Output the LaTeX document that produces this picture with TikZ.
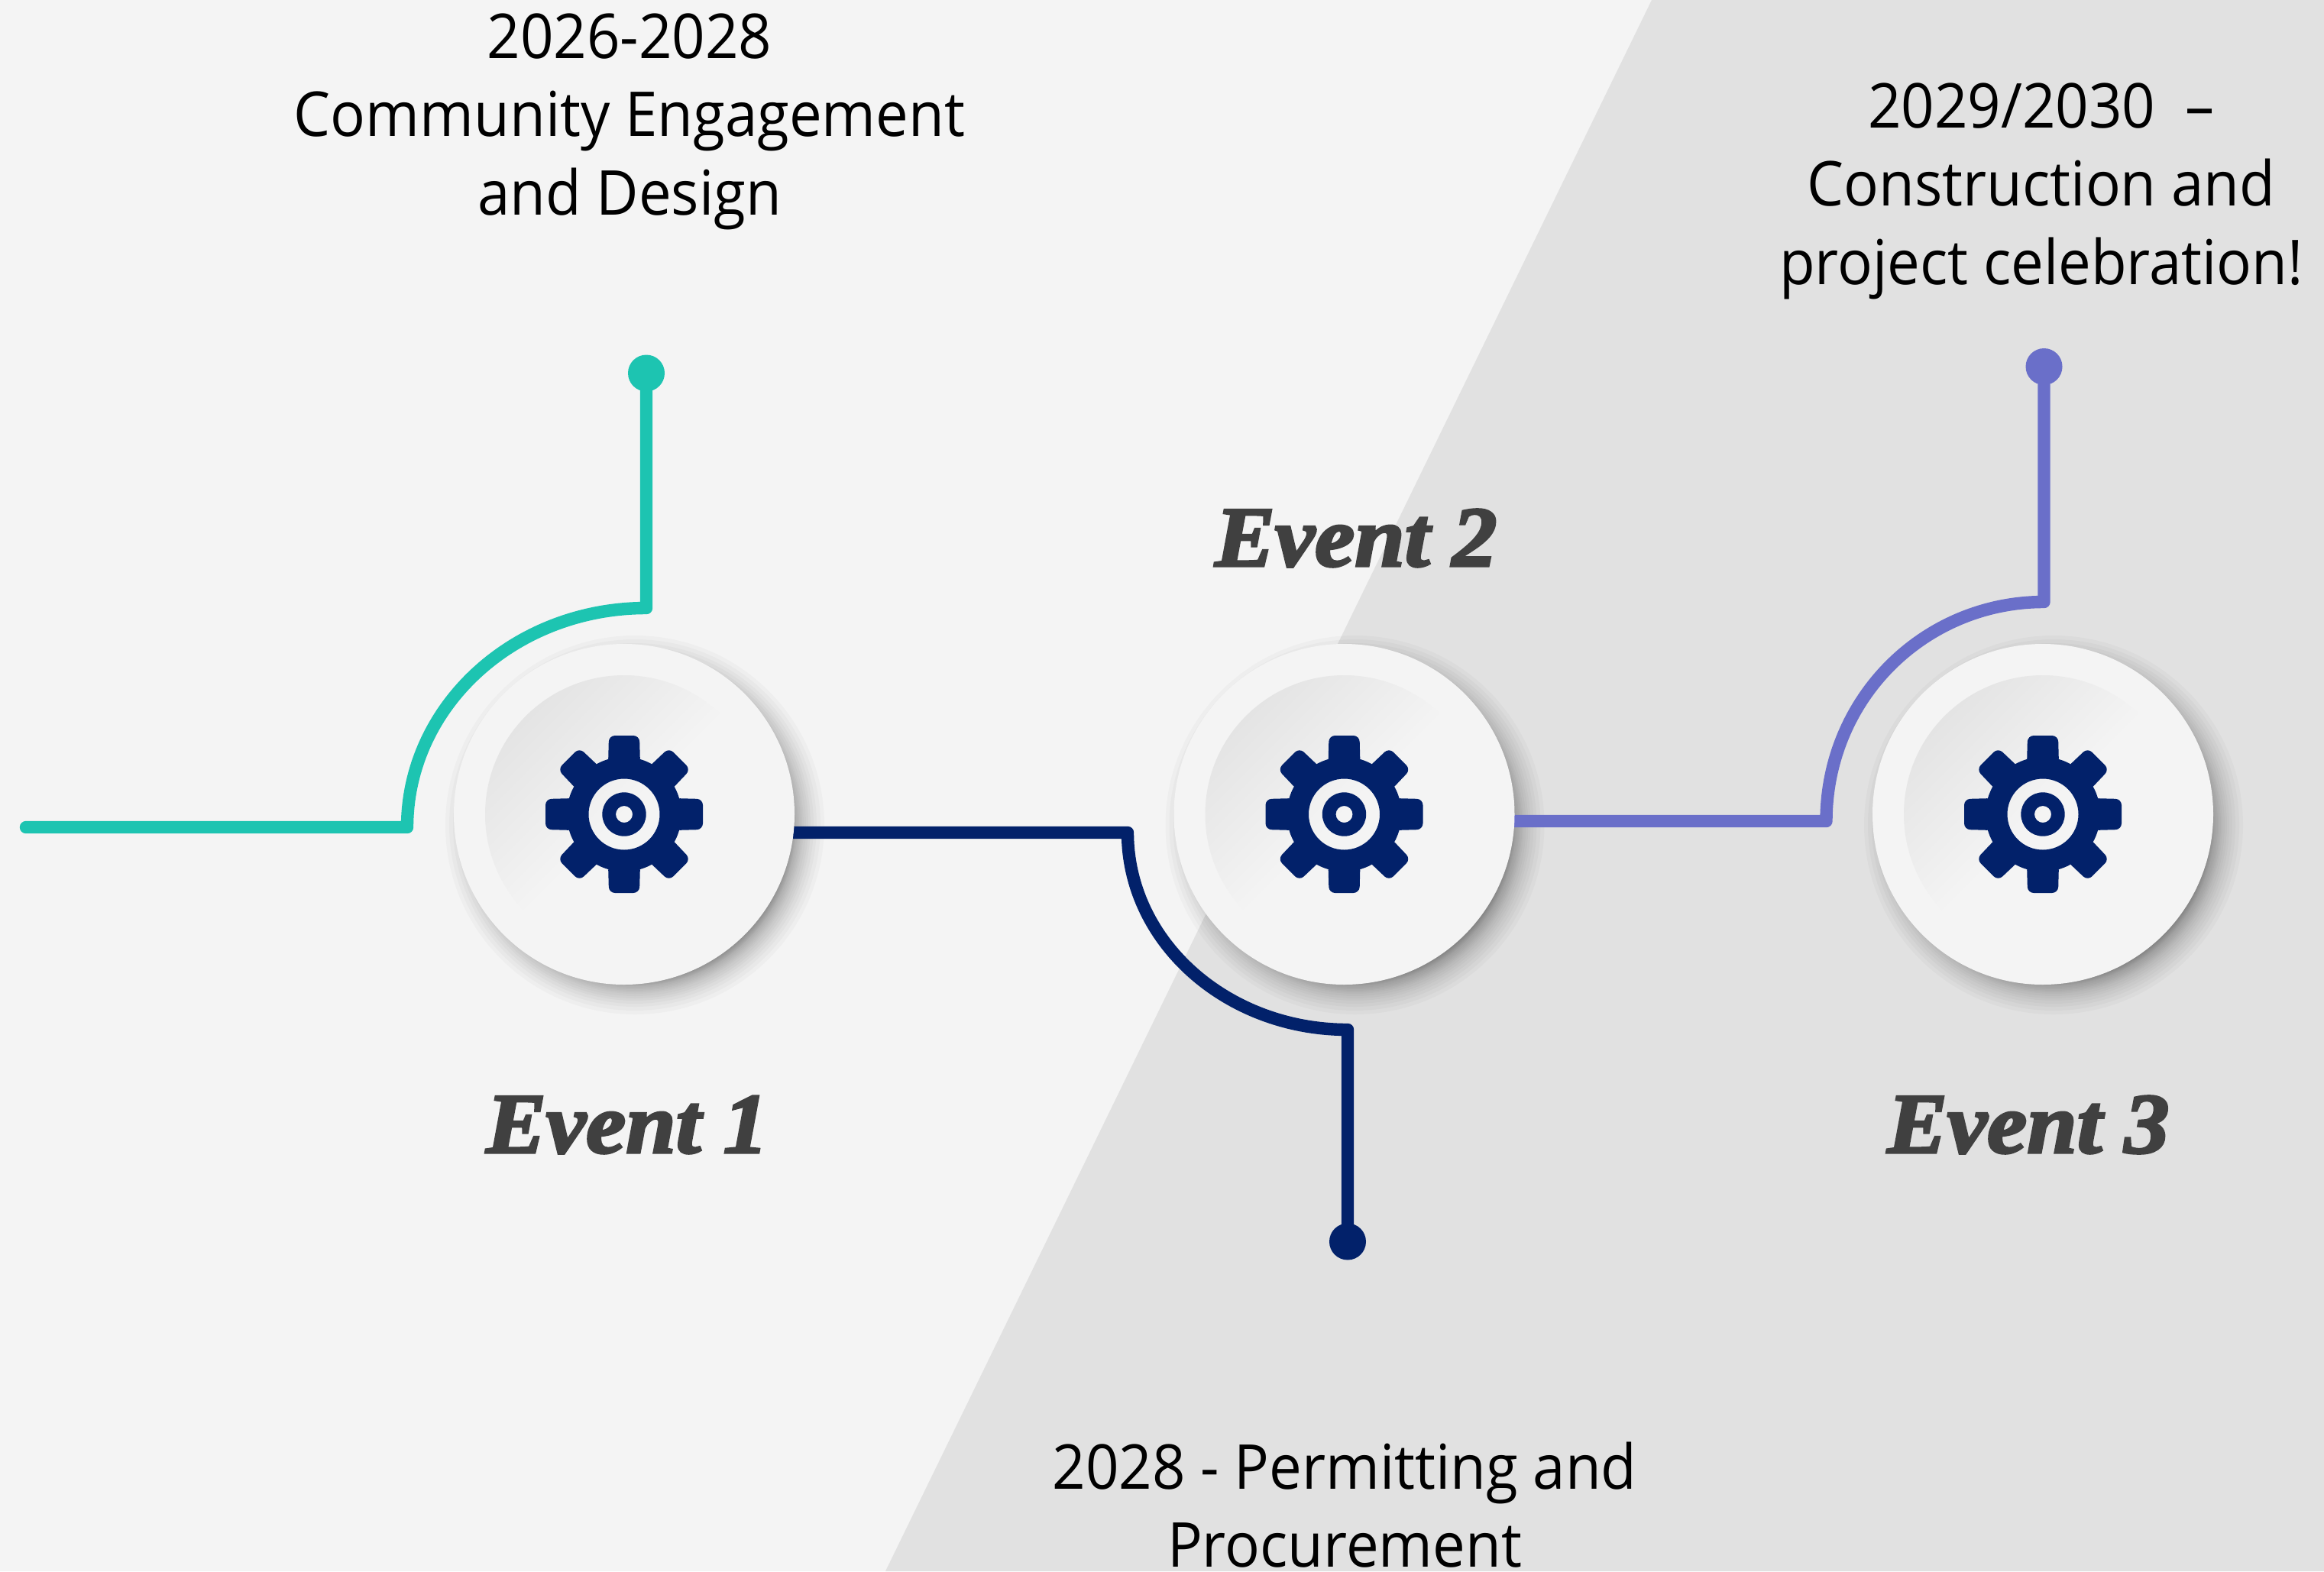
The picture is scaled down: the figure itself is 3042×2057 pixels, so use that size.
\documentclass[tikz,border=0pt]{standalone}
\usepackage{fontspec}
\setmainfont{Open Sans}[FakeStretch=0.94]
\newfontfamily\evfont[FakeBold=3,FakeStretch=1.05]{Liberation Serif Bold Italic}
\usetikzlibrary{positioning}
\definecolor{paleback}{HTML}{F4F4F4}
\definecolor{darkback}{HTML}{E1E1E1}
\definecolor{disccol}{HTML}{F4F4F4}
\definecolor{dishcol}{HTML}{E4E4E4}
\definecolor{navycol}{HTML}{02216A}
\definecolor{tealcol}{HTML}{1DC4B1}
\definecolor{violetcol}{HTML}{6A6FC9}
\definecolor{eventcol}{HTML}{404040}
\pgfdeclarelayer{backdrop}
\pgfdeclarelayer{lines}
\pgfsetlayers{backdrop,lines,main}
\tikzset{
	hub/.style={circle,fill=disccol,minimum size=111.5pt,inner sep=0pt,outer sep=0pt},
	dish/.style={circle,minimum size=91pt,inner sep=0pt,outer sep=0pt,top color=dishcol,bottom color=disccol,middle color=disccol,shading angle=45},
	enddot/.style={circle,minimum size=12pt,inner sep=0pt,outer sep=0pt},
	conn/.style={line width=4.1pt,line join=round,line cap=round},
	notetext/.style={align=center,inner sep=0pt,font=\fontsize{20.25}{25.6}\selectfont},
	eventtext/.style={inner sep=0pt,anchor=base,text=eventcol,font=\evfont\fontsize{28}{30}\selectfont},
	gear/.pic={
		\fill[navycol,even odd rule] (0,0) circle (75) (0,0) circle (46.5) (0,0) circle (28.7) (0,0) circle (11);
		\foreach \a in {0,45,...,315}
			\fill[navycol,rotate=\a,rounded corners=2pt] (-21,-65) -- (-20,-103) -- (20,-103) -- (21,-65) -- cycle;
	}
}
\begin{document}
\begin{tikzpicture}[x=0.25pt,y=0.25pt,yscale=-1,xscale=1]
	\useasboundingbox (0,0) rectangle (3042,2057);

	%Shape: Circle
	\node[hub] (hub1) at (817,1066) {};
	\node[hub] (hub2) at (1759.5,1066) {};
	\node[hub] (hub3) at (2674,1066) {};
	\node[dish] (dish1) at (hub1) {};
	\node[dish] (dish2) at (hub2) {};
	\node[dish] (dish3) at (hub3) {};
	\pic at (hub1) {gear};
	\pic at (hub2) {gear};
	\pic at (hub3) {gear};

	\begin{pgfonlayer}{backdrop}
		%Shape: Polygon
		\fill[paleback] (0,0) rectangle (3042,2057);
		\fill[darkback] (2162,0) -- (3042,0) -- (3042,2057) -- (1159,2057) -- cycle;
		%Shape: Blur
		\foreach \h in {hub1,hub2,hub3}
			\foreach \r in {204,205,206,207,208,209,210,211,213,215,217,219,221,224,227,230,234,238,243,248}
				\fill[black,opacity=0.023] (\h)++(14,14) circle (\r);
	\end{pgfonlayer}

	%Shape: End dots
	\node[enddot,fill=tealcol] (dot1) at (846,488.5) {};
	\node[enddot,fill=navycol] (dot2) at (1764,1625.5) {};
	\node[enddot,fill=violetcol] (dot3) at (2675.5,480) {};
	\coordinate (start1) at (34,1083);

	\begin{pgfonlayer}{lines}
		%Shape: Lines
		\draw[conn,tealcol] (start1) -- (533,1083) .. controls (533,924.5) and (673,796) .. (846,796) -- (dot1);
		\draw[conn,navycol] (hub1 |- 0,1090) -- (1476,1090) .. controls (1476,1232.5) and (1605,1348) .. (1764,1348) -- (dot2);
		\draw[conn,violetcol] (hub2 |- 0,1075) -- (2390.5,1075) .. controls (2390.5,915) and (2518,788) .. (2675.5,788) -- (dot3);
	\end{pgfonlayer}

	% Text Node
	\node[notetext,anchor=north] (note1) at (824,17) {2026-2028\\Community Engagement\\and Design};
	% Text Node
	\node[notetext,anchor=north] (note3) at (2672,108) {2029/2030\ \ --\\Construction and\\project celebration!};
	% Text Node
	\node[notetext,anchor=north] (note2) at (1760,1887) {2028 - Permitting and\\Procurement};
	% Text Node
	\node[eventtext] (event1) at (821,1509) {Event 1};
	% Text Node
	\node[eventtext] (event2) at (1775,741) {Event 2};
	% Text Node
	\node[eventtext] (event3) at (2655,1509) {Event 3};
\end{tikzpicture}
\end{document}
